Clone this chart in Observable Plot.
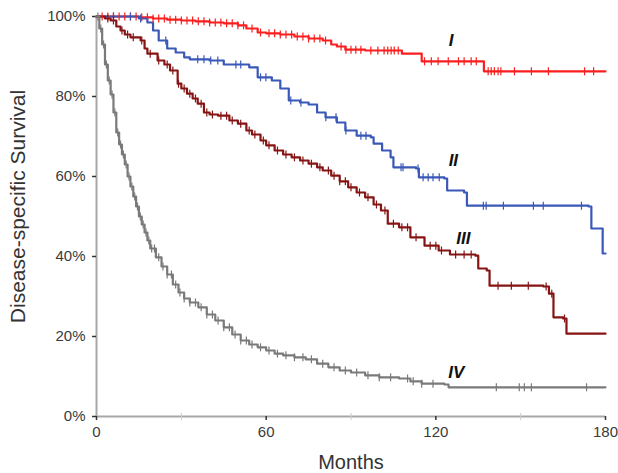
<!DOCTYPE html>
<html>
<head>
<meta charset="utf-8">
<script src="https://cdn.jsdelivr.net/npm/d3@7"></script>
<script src="https://cdn.jsdelivr.net/npm/@observablehq/plot@0.6"></script>
<style>
  html, body { margin: 0; padding: 0; background: #fff; }
  svg { font-family: "Liberation Sans", Arial, sans-serif; }
</style>
</head>
<body>
<div id="chart"></div>
<script>
// ---- Data (months, % survival) ----
const stageI_t = [0,10,15,20,25,30,35,40,45,50,53,57,60,65,70,75,80,83,85,88,95,100,108,115,137,180];
const stageI_s = [100,100,99.8,99.5,99.2,99,98.8,98.5,98.3,97.8,97,96,95.8,95.5,95,94.5,94,93,92.5,91.7,91.5,91.5,90.7,88.8,86.3,86.3];
const stageI_cens = [2,4,6,8,10,12,14,16,18,20,22,24,26,28,30,32,34,36,38,40,42,44,46,48,50,52,55,58,61,63,65,67,69,71,73,75,77,79,81,86.5,88.2,90,91.7,93.5,97,99.5,101.7,103,104.2,105.3,106.7,116,118.4,120.8,124.4,128,130,132.5,134.3,138.5,139.6,140.7,142,143,147.8,153.8,159.8,172.6,175.8];

const stageII_t = [0,10,15,18,20,22,25,28,31,33,40,45,54,57,62,65,68,72,75,78,81,85,88,92,97,98,101,104,105,113,114,123,124,130,131,174,175,178,179,180];
const stageII_s = [100,100,99.5,98.5,96.5,94,92,91,89.8,89.3,89,88,87.3,84.8,84,82,79,78.5,78,76,74.8,73.5,71.5,70.2,69.8,68.2,66.5,64.8,62.3,62,59.8,59.5,56.5,56,52.7,52.5,47,47,40.75,40.75];
const stageII_cens = [6,12,15.6,24.5,35.8,38,40.4,42.9,49.3,51,58,59.9,68.7,72.3,81.1,84.7,88.2,93.5,95.3,107.7,108.4,113.7,115.5,117.3,119,121.2,136.8,137.8,143.9,154.5,158,171.5];

const stageIII_t = [0,3,5,7,8.5,10,12,15.6,17,18,21.6,24,26,28.7,30,32,34,35.8,38,40,43,47,50,53,55,58,60,63,66,69,72,75,78,80,83,86,89,92,95,98,100.6,103,107,111,116,121,125,134,135,138,139,158,160,161.6,165,166.2,180];
const stageIII_s = [100,99.5,99,97.5,96.5,95.5,94.8,94,92,90.7,89,88,86.5,83.2,82,80.7,79.5,78.2,76,75.5,75.2,74,73.2,71.5,70.5,69,67.8,66.5,65.5,64.8,64,63.2,62.3,61.5,60.2,58.8,57.3,56,54.8,53,51.5,48.2,47.3,44.8,42.7,41.5,40.5,40.2,37,36.5,32.7,32.5,30.7,24.8,24.5,20.7,20.7];
const stageIII_cens = [4,6,9,11,13,16,19,22,25,27,29,31,33,35,37,39,41,44,46,48,51,54,56,59,61,64,67,70,73,76,79,82,84,86,88,90,93,96,99,102,105,108,110,113,118,120,122,127,130,132.5,142,146.7,152.7,159,161,165.5];

const stageIV_t = [0,1,2,3,4,5,6,7,8,9,10,11,12,13,14,15,16,17,18,19,21,23,25,27,29,31,33,36,39,42,45,48,51,54,57,60,63,66,70,74,78,82,86,90,95,100,107,111,115,123,124.5,180];
const stageIV_s = [100,97,93,88,84,80.5,76,71,68,65.5,63,60,57.5,55,52.5,50,48,46,44,42,39.8,37.5,35.5,33,31,29.5,28.5,27.3,25.5,24,22.3,20.5,19,18,17.3,16.5,15.7,15.3,14.8,14.3,13.2,12.3,11.5,11,10.3,9.8,9.5,8.8,8.2,8,7.3,7.3];
const stageIV_cens = [0.5,1.5,2.5,3.5,4.5,5.5,6.5,7.5,8.5,9.5,10.5,11.5,12.5,13.5,14.5,15.5,16.5,17.5,18.5,19.5,20.5,22,23.5,25,26.5,28,29.5,31,33,35,37,39,41,43,45,47,49,51,53,55,58,61,64,67,70,73,76,80,84,88,92,96,100,104,110,112,115,119,141.4,149.5,151.3,153.8,173.3];

const stageNames = ["I","II","III","IV"];
const stageColors = ["#fa1e1e","#3a58b8","#861414","#7a7a7a"];
const labelX = [125.4,126.2,129.7,127.2];
const labelY = [94,64,44.5,11];

const xTicks = [0,60,120,180];
const xMinorTicks = [30,90,150];
const yTicks = [0,20,40,60,80,100];

// ---- Build tables ----
const curves = [
  [stageI_t, stageI_s, stageI_cens],
  [stageII_t, stageII_s, stageII_cens],
  [stageIII_t, stageIII_s, stageIII_cens],
  [stageIV_t, stageIV_s, stageIV_cens]
];
function stepAt(ts, ss, t) {
  let v = ss[0];
  for (let i = 0; i < ts.length; i++) { if (ts[i] <= t) v = ss[i]; else break; }
  return v;
}
const lineRows = [];
const censRows = [];
curves.forEach(([ts, ss, cs], k) => {
  ts.forEach((t, i) => lineRows.push({stage: stageNames[k], t, s: ss[i]}));
  cs.forEach(t => censRows.push({stage: stageNames[k], t, s: stepAt(ts, ss, t)}));
});
const labels = stageNames.map((n, i) => ({n, x: labelX[i], y: labelY[i]}));
const minorRows = xMinorTicks.map(t => ({t, s: 0}));

const vtick = {
  draw(context, size) {
    const h = Math.sqrt(size / Math.PI);
    context.moveTo(0, -h);
    context.lineTo(0, h);
  }
};

const chart = Plot.plot({
  width: 618,
  height: 473,
  marginLeft: 96,
  marginRight: 13,
  marginTop: 16,
  marginBottom: 57,
  style: {fontFamily: "Liberation Sans, Arial, sans-serif", background: "#fff"},
  x: {type: "linear", domain: [0, 180]},
  y: {type: "linear", domain: [0, 100]},
  color: {domain: stageNames, range: stageColors},
  marks: [
    Plot.ruleX([0], {stroke: "#a8a8a8", strokeWidth: 2}),
    Plot.ruleY([0], {stroke: "#a8a8a8", strokeWidth: 2}),
    Plot.dot(minorRows, {x: "t", y: "s", symbol: vtick, r: 3.5, stroke: "#cccccc", strokeWidth: 1}),
    Plot.axisX({ticks: xTicks, tickSize: 4, tickPadding: 6, stroke: "#333", strokeWidth: 1.5, fontSize: 15, fill: "#3a3a3a", label: null, tickFormat: d => String(d)}),
    Plot.axisY({ticks: yTicks, tickSize: 4, tickPadding: 7, stroke: "#333", strokeWidth: 1.5, fontSize: 15, fill: "#3a3a3a", label: null, tickFormat: d => d + "%"}),
    Plot.line(lineRows, {x: "t", y: "s", z: "stage", stroke: "stage", strokeWidth: 2.2, curve: "step-after"}),
    Plot.dot(censRows, {x: "t", y: "s", stroke: "stage", symbol: vtick, r: 4, strokeWidth: 1.2}),
    Plot.text(labels, {x: "x", y: "y", text: "n", fontSize: 17, fontWeight: "bold", fontStyle: "italic", fill: "#111"}),
    Plot.text(["Disease-specific Survival"], {frameAnchor: "left", dx: -78, dy: -10, rotate: -90, textAnchor: "middle", lineAnchor: "middle", fontSize: 21, fill: "#333"}),
    Plot.text(["Months"], {frameAnchor: "bottom", dy: 46, lineAnchor: "middle", textAnchor: "middle", fontSize: 20, fill: "#333"})
  ]
});
document.getElementById("chart").appendChild(chart);
</script>
</body>
</html>
